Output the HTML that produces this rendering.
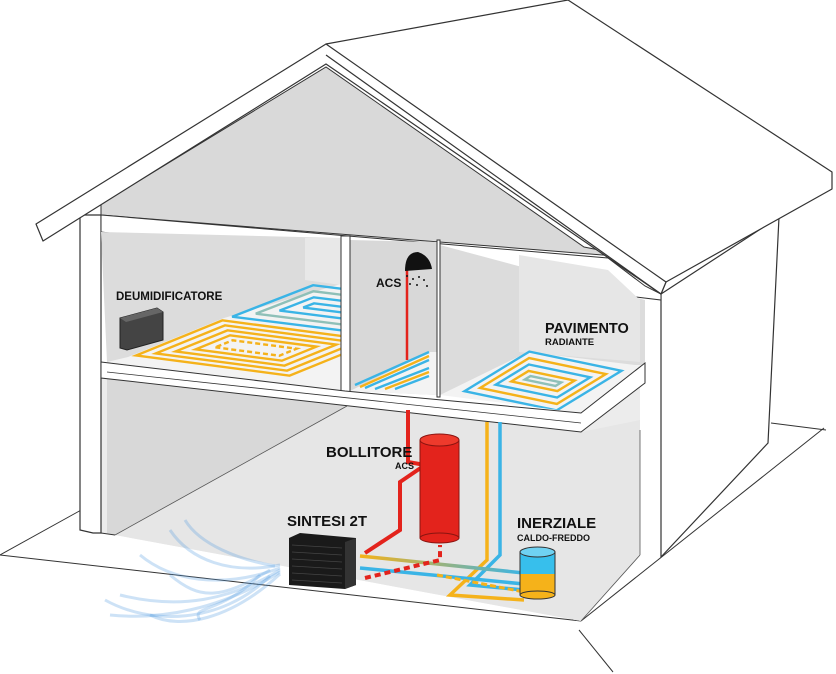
<!DOCTYPE html>
<html><head><meta charset="utf-8"><style>
html,body{margin:0;padding:0;background:#fff;}
svg{display:block;}
text{font-family:"Liberation Sans",sans-serif;font-weight:bold;fill:#111;}
</style></head><body>
<svg width="836" height="674" viewBox="0 0 836 674" xmlns="http://www.w3.org/2000/svg">
<defs>
<linearGradient id="pipeg" x1="0" x2="1"><stop offset="0" stop-color="#f5b21a"/><stop offset="1" stop-color="#3ab4e6"/></linearGradient>
<clipPath id="cl"><polygon points="107,362 341,391 341,250 107,250"/></clipPath>
<clipPath id="cr"><polygon points="440,395 581,413 645,365 645,340 440,340"/></clipPath>
</defs>
<!-- ground -->
<g stroke="#333" stroke-width="1" fill="none">
<line x1="83" y1="509" x2="0" y2="555"/>
<line x1="0" y1="555" x2="581" y2="621"/>
<line x1="581" y1="621" x2="824" y2="428"/>
<line x1="771" y1="423" x2="826" y2="430"/>
<line x1="579" y1="630" x2="613" y2="672"/>
</g>
<!-- ground floor interior -->
<polygon points="101,370 581,420 581,432 640,383 640,555 581,621 115,535 101,533" fill="#ececec"/>
<polygon points="107,378 347,406 115,535 107,533" fill="#d8d8d8"/>
<polygon points="347,406 581,432 640,420 640,555 581,621 115,535" fill="#e6e6e6"/>
<!-- walls outline -->
<g stroke="#333" stroke-width="1.2" fill="#fff">
<polygon points="80,215 101,215 101,533 93,533 80,530"/>
<polygon points="661,294 779,217 768,443 661,557"/>
</g>
<line x1="101" y1="533" x2="115" y2="535" stroke="#333"/>
<line x1="115" y1="535" x2="347" y2="406" stroke="#555" stroke-width=".8"/>
<line x1="640" y1="430" x2="640" y2="555" stroke="#555" stroke-width=".8"/>
<line x1="640" y1="555" x2="581" y2="621" stroke="#555" stroke-width=".8"/>
<!-- gable -->
<polygon points="101,204 326,67 584,247 640,258 101,215" fill="#d9d9d9" stroke="#333" stroke-width="1"/>
<polygon points="101,215 608,258 645,286 661,294 661,300 101,232" fill="#fff" stroke="#333" stroke-width="1"/>
<!-- upper rooms -->
<polygon points="101,232 341,238 341,391 107,362" fill="#dcdcdc"/>
<polygon points="305,238 341,238 341,285 305,280" fill="#e8e8e8"/>
<polygon points="350,240 437,242 437,395 350,391" fill="#d8d8d8"/>
<polygon points="440,245 645,300 645,365 440,395" fill="#dcdcdc"/>
<polygon points="519,255 608,270 640,300 640,362 519,352" fill="#e6e6e6"/>
<!-- floors upper -->
<polygon points="107,362 128,357 224,318 341,284 341,391" fill="#f3f3f3"/>
<polygon points="440,395 528,352 635,365 645,365 581,413" fill="#f3f3f3"/>
<polygon points="350,391 429,352 437,352 437,395" fill="#f3f3f3"/>
<!-- coils -->
<g fill="none" stroke-width="2.4">
<g clip-path="url(#cl)">
<g transform="matrix(120,15,90,-35,224,318)">
<rect x=".03" y=".05" width=".94" height=".9" stroke="#3ab4e6" vector-effect="non-scaling-stroke"/>
<rect x=".13" y=".18" width=".74" height=".64" stroke="#8fc0b8" vector-effect="non-scaling-stroke"/>
<rect x=".23" y=".31" width=".54" height=".38" stroke="#3ab4e6" vector-effect="non-scaling-stroke"/>
<rect x=".33" y=".44" width=".34" height=".12" stroke="#3ab4e6" vector-effect="non-scaling-stroke"/>
</g>
<g transform="matrix(160,21,96,-39,128,357)">
<rect x=".02" y=".05" width=".96" height=".9" stroke="#f5b21a" vector-effect="non-scaling-stroke"/>
<rect x=".09" y=".14" width=".82" height=".72" stroke="#f5b21a" vector-effect="non-scaling-stroke"/>
<rect x=".16" y=".23" width=".68" height=".54" stroke="#f5b21a" vector-effect="non-scaling-stroke"/>
<rect x=".23" y=".32" width=".54" height=".36" stroke="#f5b21a" vector-effect="non-scaling-stroke"/>
<rect x=".30" y=".41" width=".40" height=".18" stroke="#f5b21a" vector-effect="non-scaling-stroke" stroke-dasharray="5,3"/>
</g>
</g>
<g clip-path="url(#cr)">
<g transform="matrix(96,20,72,-44,459,393)">
<rect x=".02" y=".05" width=".96" height=".9" stroke="#3ab4e6" vector-effect="non-scaling-stroke"/>
<rect x=".10" y=".16" width=".80" height=".68" stroke="#f5b21a" vector-effect="non-scaling-stroke"/>
<rect x=".18" y=".27" width=".64" height=".46" stroke="#3ab4e6" vector-effect="non-scaling-stroke"/>
<rect x=".26" y=".38" width=".48" height=".24" stroke="#f5b21a" vector-effect="non-scaling-stroke"/>
<rect x=".34" y=".46" width=".32" height=".08" stroke="#8fc0b8" vector-effect="non-scaling-stroke"/>
</g>
</g>
<path d="M355,385 L429,352 M365,388 L429,360 M375,389 L429,368 M395,389 L429,376" stroke="#3ab4e6"/>
<path d="M360,387 L429,356 M385,389 L429,372" stroke="#f5b21a"/>
</g>
<g stroke="#333" stroke-width="1" fill="#fff">
<rect x="341" y="236" width="9" height="157"/>
<rect x="437" y="240" width="3" height="157"/>
</g>
<!-- slab -->
<polygon points="101,362 345,391 581,413 645,363 645,383 581,432 101,378" fill="#fff" stroke="#333" stroke-width="1"/>
<line x1="107" y1="372" x2="581" y2="423" stroke="#333" stroke-width=".8"/>
<!-- roof -->
<g stroke="#333" stroke-width="1.2" fill="#fff" stroke-linejoin="round">
<polygon points="326,44 568,0 832,172 832,189 666,282 661,294 326,55"/>
<polygon points="36,224 326,44 666,282 661,294 326,64 43,241"/>
<line x1="326" y1="55" x2="661" y2="294"/>
</g>
<!-- dehumidifier -->
<polygon points="120,318 157,308 163,312 163,340 127,350 120,348" fill="#444" stroke="#222"/>
<polygon points="120,318 157,308 163,312 126,322" fill="#666"/>
<text x="116" y="300" font-size="11.5">DEUMIDIFICATORE</text>
<!-- shower -->
<path d="M407,360 L407,270 Q407,262 414,262" stroke="#e3231c" stroke-width="2.5" fill="none"/>
<path d="M405,271 Q405,252 418,252 Q430,256 432,269 Z" fill="#111"/>
<g fill="#111"><circle cx="407" cy="276" r="1"/><circle cx="413" cy="279" r="1"/><circle cx="419" cy="277" r="1"/><circle cx="424" cy="280" r="1"/><circle cx="410" cy="284" r="1"/><circle cx="417" cy="285" r="1"/><circle cx="427" cy="286" r="1"/></g>
<text x="376" y="287" font-size="12" font-weight="normal">ACS</text>
<text x="545" y="333" font-size="14.5">PAVIMENTO</text>
<text x="545" y="345" font-size="9.5">RADIANTE</text>
<!-- pipes -->
<g fill="none" stroke-linejoin="miter">
<path d="M408,410 L408,462 L425,465 L400,482 L400,530 L365,553" stroke="#e3231c" stroke-width="4"/>
<path d="M487,422 L487,560 L450,595 L524,600" stroke="#f5b21a" stroke-width="3.5"/>
<path d="M500,422 L500,555 L470,585 L524,590" stroke="#3ab4e6" stroke-width="3.5"/>
<path d="M360,556 L524,573" stroke="url(#pipeg)" stroke-width="3.5"/>
<path d="M360,568 L524,584" stroke="#3ab4e6" stroke-width="3.5"/>
<path d="M365,578 L440,560 L440,545" stroke="#e3231c" stroke-width="4" stroke-dasharray="6,4"/>
<path d="M437,575 L524,592" stroke="#f5b21a" stroke-width="3" stroke-dasharray="6,3"/>
</g>
<!-- bollitore -->
<rect x="420" y="440" width="39" height="98" fill="#e3231c" stroke="#8a1410"/>
<ellipse cx="439.5" cy="440" rx="19.5" ry="6" fill="#ee3a2c" stroke="#8a1410"/>
<ellipse cx="439.5" cy="538" rx="19.5" ry="5" fill="#e3231c" stroke="#8a1410"/>
<text x="326" y="457" font-size="15" font-weight="normal">BOLLITORE</text>
<text x="395" y="469" font-size="9">ACS</text>
<!-- inerziale -->
<rect x="520" y="552" width="35" height="43" fill="#f5b21a" stroke="#333"/>
<rect x="520" y="552" width="35" height="22" fill="#37bfec"/>
<ellipse cx="537.5" cy="552" rx="17.5" ry="5" fill="#6fd2f2" stroke="#333"/>
<ellipse cx="537.5" cy="595" rx="17.5" ry="4" fill="#f5b21a" stroke="#333"/>
<line x1="520" y1="552" x2="520" y2="595" stroke="#333"/><line x1="555" y1="552" x2="555" y2="595" stroke="#333"/>
<text x="517" y="528" font-size="15" font-weight="normal">INERZIALE</text>
<text x="517" y="541" font-size="9">CALDO-FREDDO</text>
<!-- heat pump -->
<polygon points="289,538 300,533 356,538 356,585 345,589 289,585" fill="#1a1a1a"/>
<polygon points="345,542 356,538 356,585 345,589" fill="#333"/>
<g stroke="#444" stroke-width=".7"><line x1="292" y1="545" x2="342" y2="548"/><line x1="292" y1="552" x2="342" y2="555"/><line x1="292" y1="559" x2="342" y2="562"/><line x1="292" y1="566" x2="342" y2="569"/><line x1="292" y1="573" x2="342" y2="576"/><line x1="292" y1="580" x2="342" y2="583"/></g>
<text x="287" y="526" font-size="15" font-weight="normal">SINTESI 2T</text>
<!-- wind -->
<g fill="none" stroke="#5b9ee0" stroke-opacity=".3" stroke-width="3">
<path d="M280,565 C230,575 190,560 170,530"/>
<path d="M280,568 C220,590 170,580 140,555"/>
<path d="M280,570 C230,600 180,610 120,595"/>
<path d="M280,572 C220,610 160,620 110,615"/>
<path d="M280,574 C230,620 180,630 150,615"/>
<path d="M270,570 C220,600 200,600 170,575"/>
<path d="M260,575 C220,615 190,605 200,620"/>
<path d="M275,566 C240,560 200,545 185,520"/>
<path d="M270,576 C220,625 150,625 105,600"/>
</g>
</svg>
</body></html>
